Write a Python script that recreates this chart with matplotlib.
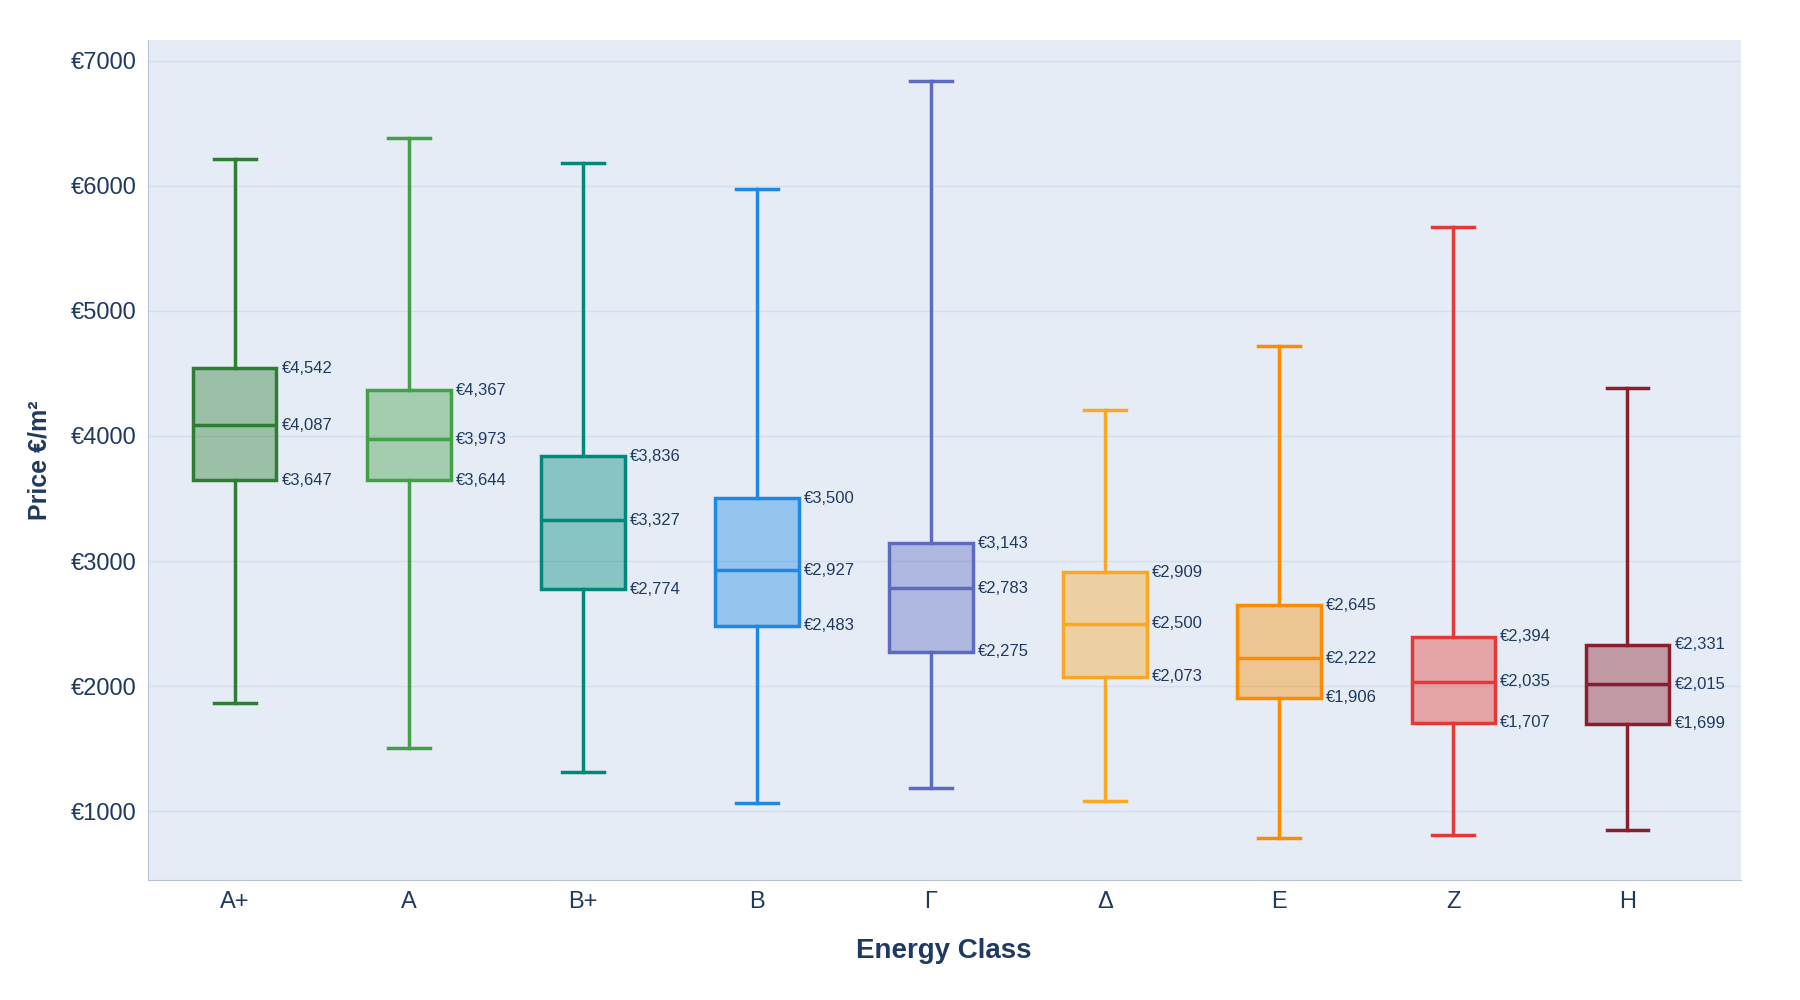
import matplotlib.pyplot as plt

plt.rcParams['font.family'] = ['Liberation Sans', 'DejaVu Sans']

classes = ['A+', 'A', 'B+', 'B', 'Γ', 'Δ', 'E', 'Z', 'H']
q1 = [3647, 3644, 2774, 2483, 2275, 2073, 1906, 1707, 1699]
medians = [4087, 3973, 3327, 2927, 2783, 2500, 2222, 2035, 2015]
q3 = [4542, 4367, 3836, 3500, 3143, 2909, 2645, 2394, 2331]
whisker_low = [1862, 1505, 1312, 1064, 1183, 1083, 789, 807, 853]
whisker_high = [6211, 6385, 6183, 5972, 6835, 4211, 4716, 5670, 4385]
colors = ['#2e7d32', '#43a047', '#00897b', '#1e88e5', '#5c6bc0',
          '#f9a825', '#fb8c00', '#e53935', '#8b1e2d']

navy = '#1f3a60'
fig = plt.figure(figsize=(18, 10), dpi=100)
ax = fig.add_axes([0.082, 0.12, 0.885, 0.84])
ax.set_facecolor('#e5ecf6')

stats = [
    {'med': m, 'q1': a, 'q3': b, 'whislo': lo, 'whishi': hi, 'fliers': []}
    for a, m, b, lo, hi in zip(q1, medians, q3, whisker_low, whisker_high)
]
positions = list(range(len(classes)))
bp = ax.bxp(stats, positions=positions, widths=0.48, patch_artist=True,
            showfliers=False, zorder=3)
for i, c in enumerate(colors):
    bp['boxes'][i].set(facecolor=c + '66', edgecolor=c, linewidth=2.5)
    bp['medians'][i].set(color=c, linewidth=2.5)
    for line in bp['whiskers'][2 * i:2 * i + 2] + bp['caps'][2 * i:2 * i + 2]:
        line.set(color=c, linewidth=2.5)
    for v in (q1[i], medians[i], q3[i]):
        ax.text(positions[i] + 0.27, v, f'€{v:,}', fontsize=12, color=navy,
                va='center', ha='left', zorder=4)

ax.set_ylim(450, 7165)
ax.set_xlim(-0.5, len(classes) - 0.35)
ax.set_yticks(range(1000, 7001, 1000))
ax.set_yticklabels([f'€{v}' for v in range(1000, 7001, 1000)])
ax.set_xticks(positions)
ax.set_xticklabels(classes)
ax.tick_params(axis='both', labelsize=17, colors=navy, length=0, pad=8)
ax.grid(axis='y', color='#d3deee', linewidth=1, zorder=0)
ax.set_axisbelow(True)
for s in ['top', 'right']:
    ax.spines[s].set_visible(False)
for s in ['left', 'bottom']:
    ax.spines[s].set_color('#b8c4d6')

ax.set_xlabel('Energy Class', fontsize=20, fontweight='bold', color=navy, labelpad=18)
ax.set_ylabel('Price €/m²', fontsize=18, fontweight='bold', color=navy, labelpad=14)

fig.savefig('out.png')
